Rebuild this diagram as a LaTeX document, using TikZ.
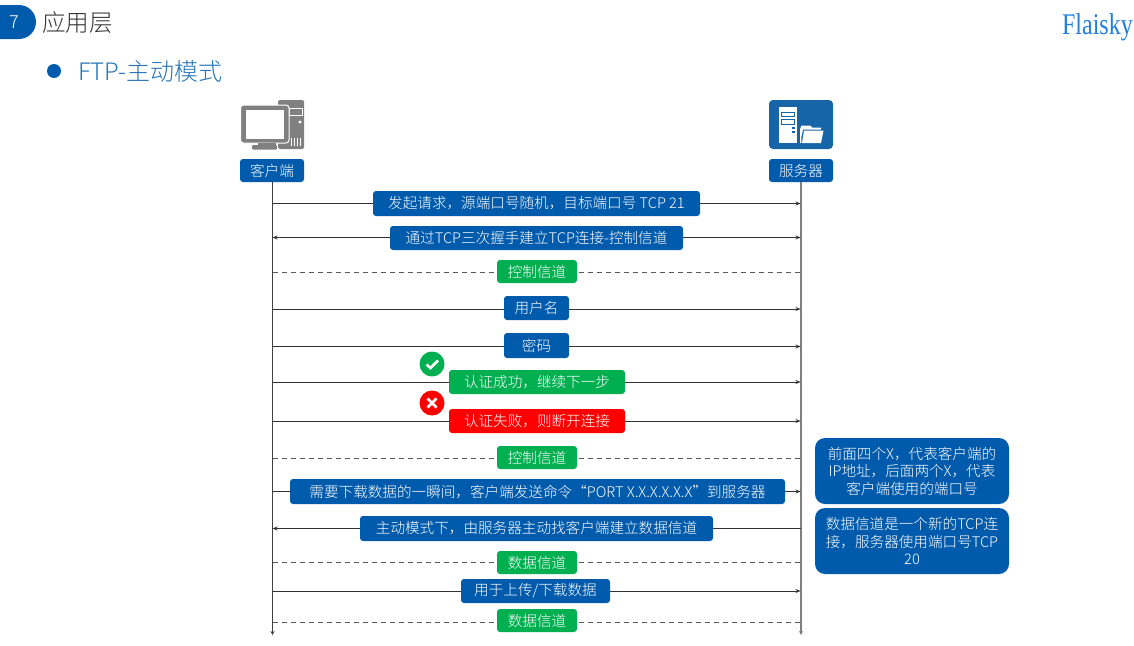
\documentclass[tikz,border=0pt]{standalone}
\usepackage{fontspec}
\setmainfont{Noto Sans CJK SC}[UprightFont=* Light]
\newfontfamily\logofont{Liberation Serif}[FakeStretch=0.8]
\usetikzlibrary{arrows.meta,positioning}
\definecolor{mainblue}{HTML}{005BAC}
\definecolor{okgreen}{HTML}{00B050}
\definecolor{iconblue}{HTML}{1565A8}
\definecolor{linegray}{HTML}{7F7F7F}
\definecolor{logoblue}{HTML}{1F7FE0}
\tikzset{
  x=1pt,y=-1pt,
  lab/.style={rectangle,rounded corners=3pt,inner sep=0pt,text=white,font=\fontsize{14.6}{17}\selectfont,anchor=center},
  bluebox/.style={lab,fill=mainblue},
  greenbox/.style={lab,fill=okgreen},
  redbox/.style={lab,fill=red},
  notebox/.style={lab,fill=mainblue,rounded corners=10pt,align=center,font=\fontsize{14.6}{17.5}\selectfont},
  lifeL/.style={draw=black!75,line width=1pt,-{Stealth[length=4pt,width=4pt]}},
  lifeR/.style={draw=linegray,line width=1.3pt,-{Stealth[length=4pt,width=4pt]}},
  msg/.style={draw=black!80,line width=0.8pt},
  toR/.style={msg,-{Stealth[length=5pt,width=4pt]}},
  toL/.style={msg,{Stealth[length=5pt,width=4pt]}-},
  both/.style={msg,{Stealth[length=5pt,width=4pt]}-{Stealth[length=5pt,width=4pt]}},
  dashline/.style={draw=black!65,line width=0.9pt,dash pattern=on 5pt off 4pt},
}
\newcommand{\bx}[6]{\node[#1,minimum width=#4,minimum height=#5] (#2) at (#3) {#6};}
\begin{document}
\begin{tikzpicture}
\useasboundingbox (0,0) rectangle (1134,645);
% header
\fill[mainblue] (0,5) -- (19,5) .. controls (28.4,5) and (36,12.6) .. (36,22) .. controls (36,31.4) and (28.4,39) .. (19,39) -- (0,39) -- cycle;
\node[text=white,font=\fontsize{18}{20}\selectfont] (num) at (14,22.5) {7};
\node[anchor=west,inner sep=0pt,text=black!80,font=\fontsize{23.6}{26}\selectfont] (title) at (42,23) {应用层};
\node[circle,fill=mainblue,minimum size=14pt,inner sep=0pt] (bullet) at (54,71) {};
\node[anchor=west,inner sep=0pt,text=mainblue!85,font=\fontsize{24}{26}\selectfont] (sub) at (78,71) {FTP-主动模式};
\node[anchor=east,inner sep=0pt,text=logoblue,font=\logofont\fontsize{30}{31}\selectfont] (logo) at (1133,27) {Flaisky};
% computer icon
\fill[gray,rounded corners=1.5pt] (278,100) rectangle (304,149);
\draw[white,line width=0.8pt] (289,108) rectangle (302,115);
\fill[white] (300,122) circle (1.6);
\foreach \vx in {291,294,297,300} \draw[white,line width=0.7pt] (\vx,138) -- (\vx,146);
\fill[gray,rounded corners=3pt,draw=white,line width=1pt] (240.5,105) rectangle (289,143);
\fill[white] (246,110) rectangle (284,139);
\fill[gray] (258,143) rectangle (276,145);
\fill[gray,rounded corners=1pt] (252,145) rectangle (277,149.5);
% server icon
\fill[iconblue,rounded corners=4pt] (769,100) rectangle (833,149);
\fill[white] (779,107) rectangle (797,143);
\draw[iconblue,line width=1pt] (781,112.5) rectangle (794.5,116.5);
\draw[iconblue,line width=1pt] (781,119.5) rectangle (794.5,124);
\fill[iconblue] (791.5,127) rectangle (795,129);
\fill[iconblue] (791.5,130.5) rectangle (795,132.5);
\fill[white] (800,143) -- (800,129) -- (801.5,125.5) -- (810,125.5) -- (812,127.5) -- (821,127.5) -- (821,129.5) -- (803,129.5) -- (801.3,137) -- (801.3,143) -- cycle;
\fill[white] (802,143) -- (804,130.5) -- (823.5,130.5) -- (821,143) -- cycle;
% participants
\bx{bluebox}{client}{272,170.5}{64pt}{23pt}{客户端}
\bx{bluebox}{server}{801,170.5}{64pt}{23pt}{服务器}
\coordinate (cend) at (272.5,635);
\coordinate (send) at (801,635);
\draw[lifeL] (client.south -| cend) -- (cend);
\draw[lifeR] (server.south -| send) -- (send);
% rows
\foreach \nm/\ya in {a/203.5,b/237.5,c/272,d/309,e/346.5,f/382,g/421,h/458,i/491.5,j/528.5,k/562,l/591,m/622}{
  \coordinate (L\nm) at (272.5,\ya);
  \coordinate (R\nm) at (800.5,\ya);
}
\draw[toR] (La) -- (Ra);
\draw[both] (Lb) -- (Rb);
\draw[dashline] (Lc) -- (Rc);
\draw[toR] (Ld) -- (Rd);
\draw[toR] (Le) -- (Re);
\draw[toR] (Lf) -- (Rf);
\draw[toR] (Lg) -- (Rg);
\draw[dashline] (Lh) -- (Rh);
\draw[toR] (Li) -- (Ri);
\draw[toL] (Lj) -- (Rj);
\draw[dashline] (Lk) -- (Rk);
\draw[toR] (Ll) -- (Rl);
\draw[dashline] (Lm) -- (Rm);
% labels
\bx{bluebox}{n1}{536.5,203.5}{327pt}{25pt}{发起请求，源端口号随机，目标端口号 TCP 21}
\bx{bluebox}{n2}{536.5,238}{293pt}{24pt}{通过TCP三次握手建立TCP连接-控制信道}
\bx{greenbox}{n3}{537,271.5}{80pt}{23pt}{控制信道}
\bx{bluebox}{n4}{536.5,308}{65pt}{24pt}{用户名}
\bx{bluebox}{n5}{536.5,345.5}{65pt}{25pt}{密码}
\bx{greenbox}{n6}{537,382}{176pt}{24pt}{认证成功，继续下一步}
\bx{redbox}{n7}{537,421}{176pt}{24pt}{认证失败，则断开连接}
\bx{greenbox}{n8}{537,457.5}{80pt}{23pt}{控制信道}
\bx{bluebox}{n9}{537.5,491.5}{495pt}{25pt}{需要下载数据的一瞬间，客户端发送命令“PORT X.X.X.X.X.X”到服务器}
\bx{bluebox}{n10}{536.5,528.5}{353pt}{25pt}{主动模式下，由服务器主动找客户端建立数据信道}
\bx{greenbox}{n11}{537,562.5}{80pt}{23pt}{数据信道}
\bx{bluebox}{n12}{535.5,591}{149pt}{24pt}{用于上传/下载数据}
\bx{greenbox}{n13}{537,620.5}{80pt}{23pt}{数据信道}
% status icons
\node[circle,fill=okgreen,minimum size=25pt,inner sep=0pt] (ok) at (432,364) {};
\draw[white,line width=2.6pt] (426.5,364.5) -- (430.5,368) -- (438,360.5);
\node[circle,fill=red,minimum size=25pt,inner sep=0pt] (no) at (432,403) {};
\draw[white,line width=2.8pt] (427.5,398.5) -- (436.5,407.5) (436.5,398.5) -- (427.5,407.5);
% notes
\bx{notebox}{note1}{912,471}{194pt}{66pt}{前面四个X，代表客户端的\\IP地址，后面两个X，代表\\客户端使用的端口号}
\bx{notebox}{note2}{912,541}{194pt}{66pt}{数据信道是一个新的TCP连\\接，服务器使用端口号TCP\\20}
\end{tikzpicture}
\end{document}
